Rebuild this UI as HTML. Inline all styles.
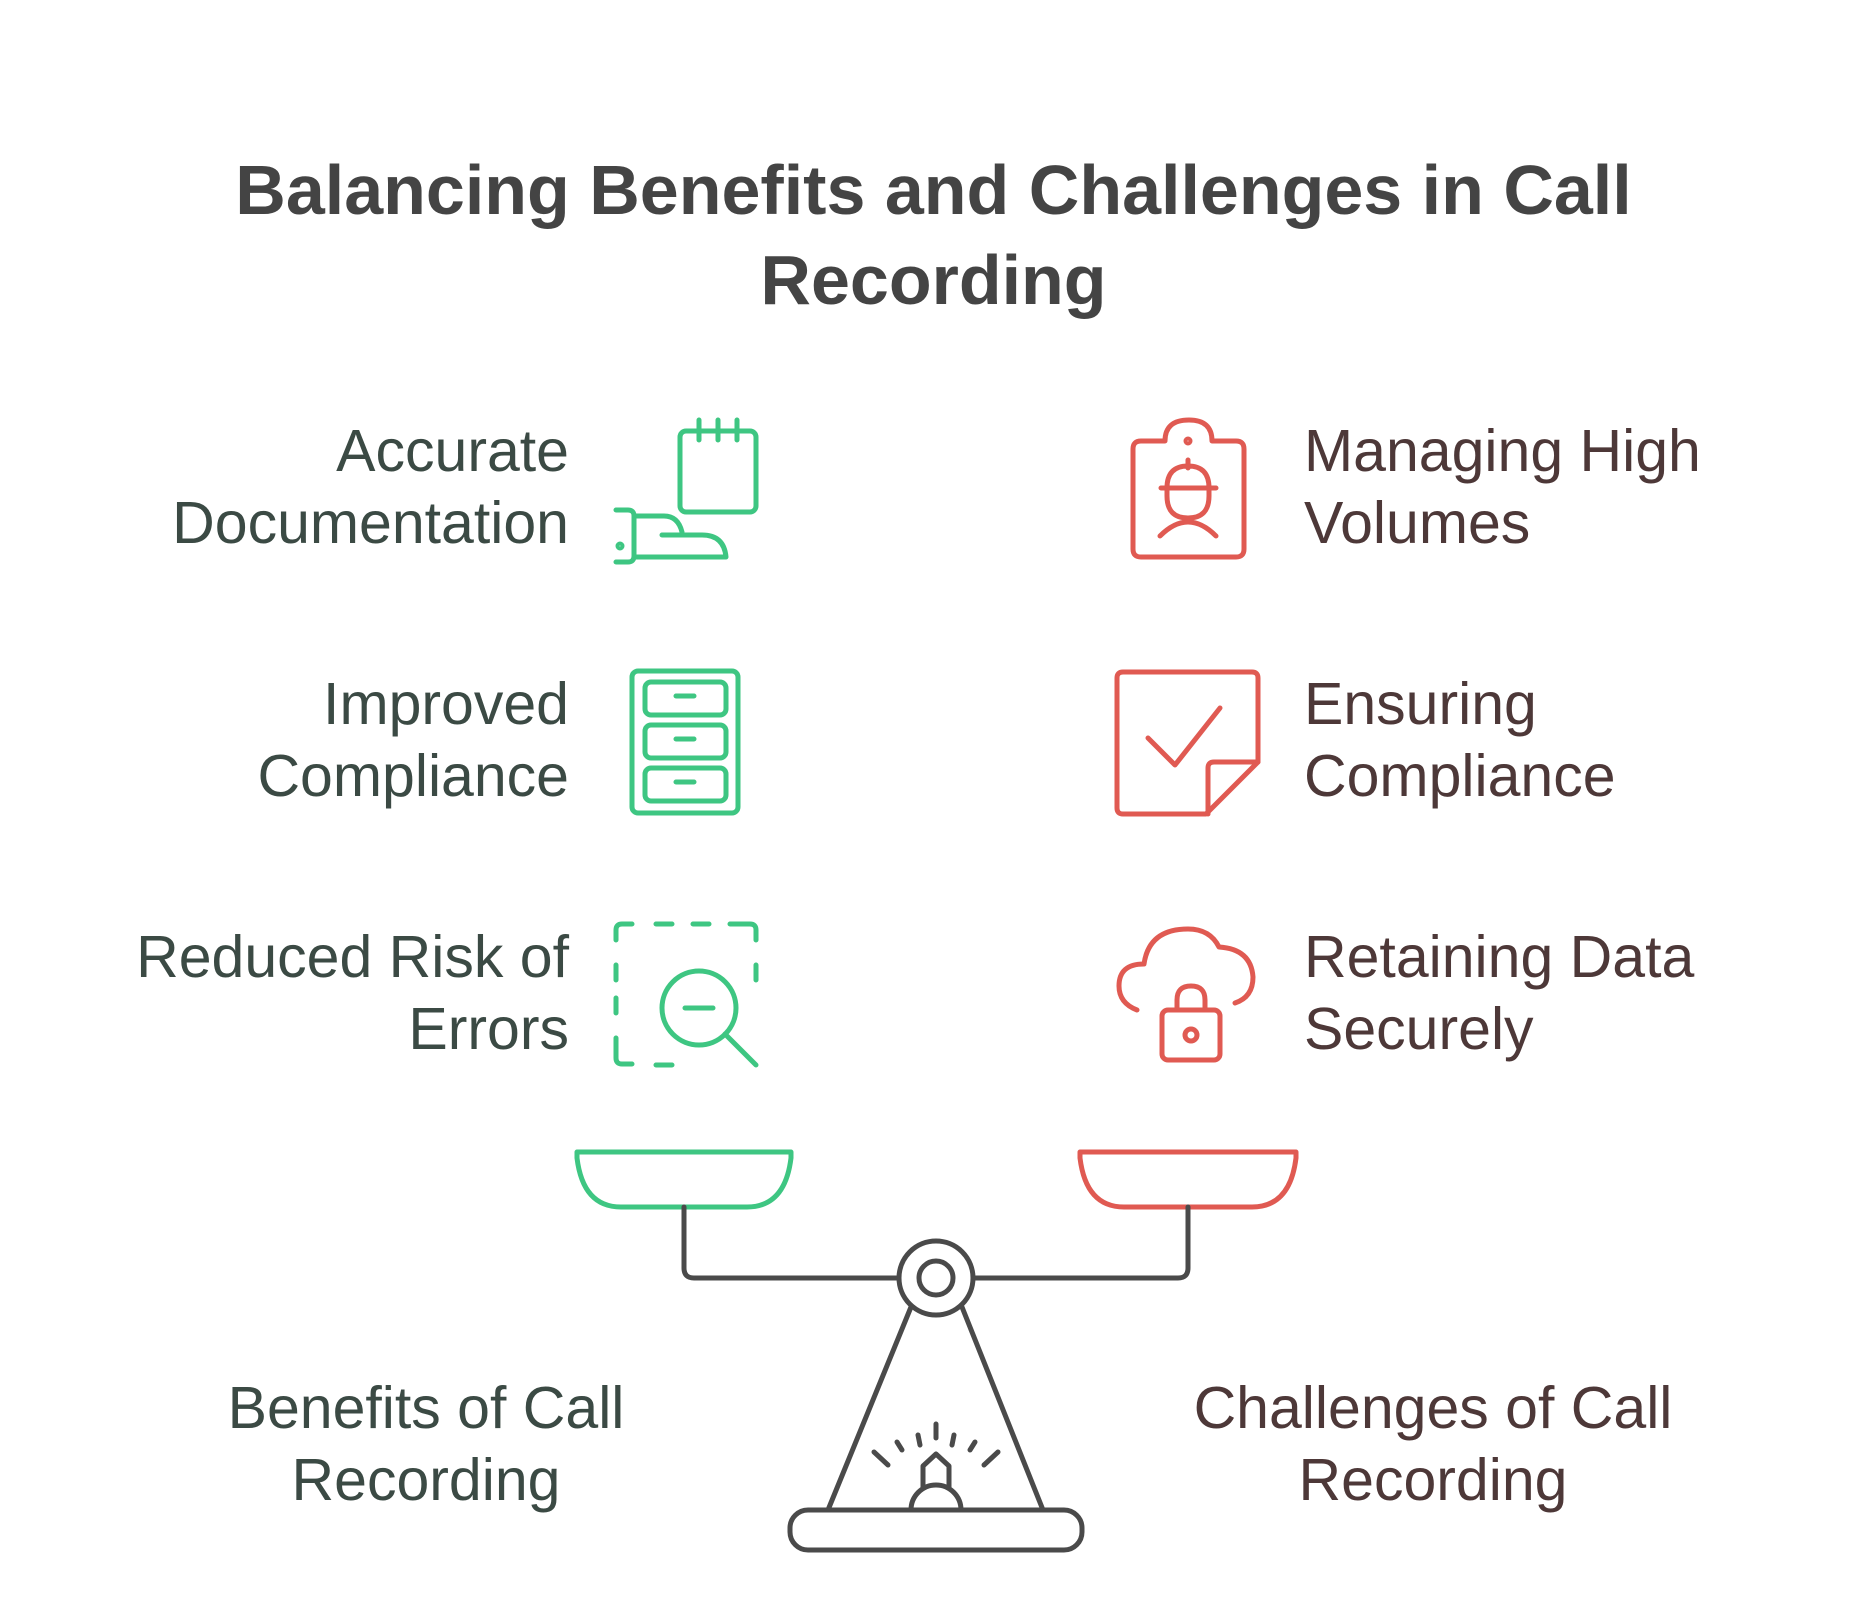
<!DOCTYPE html>
<html><head><meta charset="utf-8"><style>
html,body{margin:0;padding:0;background:#fff;}
body{width:1867px;height:1615px;position:relative;overflow:hidden;font-family:"Liberation Sans",sans-serif;}
.t{position:absolute;font-size:59px;line-height:72px;white-space:nowrap;}
.l{color:#3b4a44;text-align:right;right:1298px;}
.r{color:#4d3838;left:1304px;}
.c{text-align:center;width:600px;}
h1{position:absolute;left:0;width:1867px;top:145px;margin:0;text-align:center;font-size:70px;line-height:90px;font-weight:bold;color:#444;}
</style></head><body>
<h1>Balancing Benefits and Challenges in Call<br>Recording</h1>
<div class="t l" style="top:415px">Accurate<br>Documentation</div>
<div class="t l" style="top:668px">Improved<br>Compliance</div>
<div class="t l" style="top:921px">Reduced Risk of<br>Errors</div>
<div class="t r" style="top:415px">Managing High<br>Volumes</div>
<div class="t r" style="top:668px">Ensuring<br>Compliance</div>
<div class="t r" style="top:921px">Retaining Data<br>Securely</div>
<div class="t c" style="left:126px;top:1372px;color:#3b4a44">Benefits of Call<br>Recording</div>
<div class="t c" style="left:1133px;top:1372px;color:#4d3838">Challenges of Call<br>Recording</div>
<svg width="1867" height="1615" style="position:absolute;left:0;top:0" fill="none" stroke-linecap="round" stroke-linejoin="round" stroke-width="5">
<g stroke="#3ec682">
<rect x="680" y="431" width="76" height="81" rx="6"/>
<path d="M699 420v20M718 420v20M737 420v20"/>
<path d="M616 510h12q6 0 6 6v40q0 6-6 6h-12M634 516h30q14 0 18 16M662 535h40q22 0 24 22h-92"/>
<circle cx="620" cy="546" r="2"/>
<g transform="translate(0,-3)">
<rect x="632" y="674" width="106" height="142" rx="6"/>
<rect x="645" y="685" width="81" height="33" rx="6"/><rect x="645" y="728" width="81" height="33" rx="6"/><rect x="645" y="771" width="81" height="33" rx="6"/>
<path d="M676 699h18M676 742h18M676 785h18"/>
</g>
<g transform="translate(0,-5)">
<path d="M616 945v-10q0-6 6-6h10M656 929h16M693 929h16M730 929h20q6 0 6 6v10M756 970v15M616 970v15M616 1003v15M616 1043v20q0 6 6 6h10M656 1070h16"/>
<circle cx="699" cy="1013" r="37"/><path d="M685 1013h28M725 1039l31 31"/>
</g>
</g>
<g stroke="#e05a52" transform="translate(-7,-2)">
<path d="M1172 443h-24q-8 0-8 8v100q0 8 8 8h95q8 0 8-8v-100q0-8-8-8h-24q0-21-23-21q-24 0-24 21z"/>
<circle cx="1195" cy="443" r="2"/>
<path d="M1168 490h55M1195 462v8M1174 490q0-22 21-22q21 0 21 22v8q0 22-21 22q-21 0-21-22zM1167 538q28-28 56 0"/>
<path d="M1130 674h129q6 0 6 6v84l-52 52h-83q-6 0-6-6v-130q0-6 6-6z"/>
<path d="M1265 764h-44q-6 0-6 6v46M1155 740l27 27l45-57"/>
<path d="M1144 1012q-18-7-18-24q0-22 25-22q5-35 44-35q22 0 31 18q32 2 34 30q0 20-18 26"/>
<rect x="1169" y="1012" width="58" height="50" rx="6"/><path d="M1184 1012v-10q0-14 14-14q14 0 14 14v10"/><circle cx="1198" cy="1037" r="6"/>
</g>
<path stroke="#3ec682" d="M577 1152h214v6q-6 49-44 49h-126q-38 0-44-49z"/>
<path stroke="#e05a52" d="M1080 1152h216v6q-6 49-44 49h-128q-38 0-44-49z"/>
<g stroke="#4a4a4a">
<path d="M684 1207v61q0 10 10 10h205M974 1278h204q10 0 10-10v-61"/>
<circle cx="936" cy="1278" r="37"/><circle cx="936" cy="1278" r="17"/>
<path d="M911 1307L828 1510M962 1307L1043 1510"/>
<rect x="790" y="1510" width="292" height="40" rx="18"/>
<path d="M911 1510a25 25 0 0 1 50 0M923 1488v-22l13-12l13 12v22"/>
<path d="M936 1424v14M918 1435l2 10M954 1435l-2 10M897 1442l5 8M975 1442l-5 8M874 1452l14 13M998 1452l-14 13"/>
</g>
</svg>
</body></html>
